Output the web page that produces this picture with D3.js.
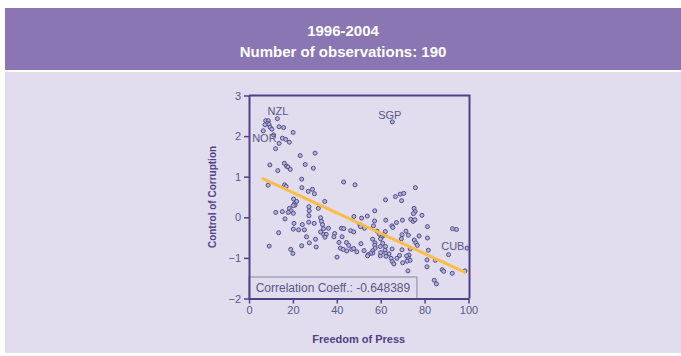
<!DOCTYPE html>
<html>
<head>
<meta charset="utf-8">
<script src="https://cdn.jsdelivr.net/npm/d3@7"></script>
<style>
  html, body { margin: 0; padding: 0; background: #ffffff; }
  svg { display: block; font-family: "Liberation Sans", Arial, Helvetica, sans-serif; }
</style>
</head>
<body>
<script>
// Freedom of Press index (x) and Control of Corruption score (y), one entry per country
const pressFreedom = [
  7.6, 8.8, 8.4, 7.3, 9.1, 9.6, 12.9, 13.7, 15.8, 10.4,
  6.5, 11.2, 20.1, 15.2, 16.7, 18.4, 13.7, 12.1, 23.3, 30.1,
  9.5, 16.1, 17.1, 17.8, 18.8, 13.1, 25.6, 29.3, 24.0, 8.7,
  16.2, 16.9, 24.1, 27.0, 28.9, 29.8, 20.3, 65.3, 43.1, 48.3,
  62.2, 66.7, 68.9, 70.5, 69.5, 75.8, 34.5, 21.7, 20.7, 21.0,
  20.2, 18.4, 19.2, 20.2, 17.9, 12.2, 15.2, 16.4, 27.3, 27.4,
  27.3, 27.2, 20.5, 24.3, 20.2, 22.6, 25.2, 29.7, 13.5, 26.2,
  30.3, 27.5, 24.0, 30.6, 9.2, 19.0, 20.0, 31.6, 32.6, 33.0,
  33.5, 33.9, 36.2, 32.6, 34.0, 35.2, 34.6, 39.0, 38.7, 42.1,
  43.2, 42.4, 46.3, 47.7, 41.0, 41.6, 44.4, 45.4, 42.9, 44.5,
  46.8, 40.1, 47.8, 49.1, 52.4, 51.3, 53.9, 57.3, 50.5, 50.8,
  52.6, 56.7, 57.2, 62.3, 58.3, 59.4, 60.5, 59.9, 56.3, 57.4,
  57.3, 57.5, 56.4, 56.4, 55.4, 54.3, 54.0, 51.0, 47.7, 60.9,
  59.8, 62.2, 62.0, 62.3, 59.8, 60.0, 62.4, 63.8, 64.7, 65.3,
  66.0, 65.1, 65.5, 62.1, 61.6, 65.2, 75.2, 75.7, 74.9, 73.7,
  74.8, 75.6, 78.8, 81.3, 67.2, 69.9, 71.5, 69.7, 72.6, 69.4,
  77.5, 75.3, 76.0, 76.7, 81.3, 92.7, 94.5, 99.3, 90.9, 81.7,
  73.4, 72.9, 72.6, 73.4, 71.8, 68.6, 70.0, 72.0, 69.7, 67.4,
  81.1, 84.9, 81.1, 72.4, 88.0, 88.7, 92.6, 98.4, 84.4, 85.4
];
const corruptionControl = [
  2.38, 2.38, 2.32, 2.28, 2.29, 2.22, 2.43, 2.23, 2.21, 2.17,
  2.13, 2.03, 2.09, 1.95, 1.92, 1.85, 1.82, 1.69, 1.52, 1.58,
  1.29, 1.33, 1.26, 1.24, 1.18, 1.15, 1.30, 1.21, 0.94, 0.79,
  0.80, 0.76, 0.73, 0.64, 0.69, 0.58, 0.45, 2.35, 0.87, 0.80,
  0.43, 0.51, 0.57, 0.59, 0.41, 0.73, 0.39, 0.39, 0.33, 0.30,
  0.29, 0.22, 0.16, 0.10, 0.12, 0.12, 0.14, -0.04, 0.26, 0.16,
  0.04, -0.12, -0.15, -0.18, -0.29, -0.31, -0.31, -0.15, -0.38, -0.48,
  -0.54, -0.63, -0.70, -0.73, -0.71, -0.79, -0.89, 0.22, -0.01, -0.10,
  -0.18, -0.28, -0.27, -0.36, -0.42, -0.42, -0.49, -0.40, -0.48, -0.27,
  -0.28, -0.48, -0.33, -0.36, -0.62, -0.76, -0.62, -0.69, -0.79, -0.83,
  -0.79, -0.98, 0.02, -0.85, -0.82, -0.02, 0.03, 0.16, -0.18, -0.23,
  -0.27, -0.21, -0.09, -0.07, -0.34, -0.42, -0.48, -0.53, -0.54, -0.63,
  -0.69, -0.76, -0.82, -0.88, -0.89, -0.92, -0.95, -0.65, -0.77, -0.64,
  -0.72, -0.72, -0.81, -0.89, -0.95, -0.87, -0.96, -0.90, -1.01, -1.09,
  -1.15, -0.21, -0.25, -0.35, -0.44, -0.78, 0.22, 0.14, 0.09, -0.05,
  -0.10, -0.06, 0.05, -0.23, -0.13, -0.07, -0.34, -0.43, -0.44, -0.53,
  -0.46, -0.56, -0.63, -0.69, -0.51, -0.28, -0.30, -0.76, -0.92, -0.81,
  -0.78, -0.93, -1.01, -1.06, -0.95, -0.94, -1.12, -1.08, -0.80, -1.01,
  -1.05, -1.06, -1.22, -1.32, -1.29, -1.33, -1.38, -1.32, -1.55, -1.64
];

// Countries called out by name, with their values
const labelCodes = ["NZL", "NOR", "SGP", "CUB"];
const labelPress = [12.9, 11.2, 65.3, 99.3];
const labelCorruption = [2.43, 2.03, 2.35, -0.76];

// Fitted regression line
const fitSlope = -0.02503;
const fitIntercept = 1.108;
const fitFrom = 6.3;
const fitTo = 98.2;
const correlation = -0.648389;

// Axis ticks
const xTicks = [0, 20, 40, 60, 80, 100];
const yTicks = [-2, -1, 0, 1, 2, 3];

const titleLines = ["1996-2004", "Number of observations: " + pressFreedom.length];

const W = 681, H = 356;
const axisColor = "#4f4185";
const textColor = "#5a5688";

const svg = d3.select("body").append("svg")
  .attr("width", W).attr("height", H);

// panel backgrounds
svg.append("rect").attr("x", 5).attr("y", 8).attr("width", W - 5).attr("height", 62)
  .attr("fill", "#8a76b3");
svg.append("rect").attr("x", 5).attr("y", 72).attr("width", W - 5).attr("height", 281)
  .attr("fill", "#e1ddee");

svg.selectAll("text.title").data(titleLines).join("text")
  .attr("class", "title")
  .attr("x", 343)
  .attr("y", (d, i) => 36 + i * 21)
  .attr("text-anchor", "middle")
  .attr("fill", "#ffffff")
  .attr("font-size", 15)
  .attr("font-weight", "bold")
  .text(d => d);

const x = d3.scaleLinear().domain([0, 100]).range([249, 468.5]);
const y = d3.scaleLinear().domain([-2, 3]).range([298.5, 95.5]);

// frame top and right
const [x0, x1] = x.range();
const [yb, yt] = y.range();
svg.append("path")
  .attr("d", `M${x0},${yt}H${x1 + 1}V${yb}`)
  .attr("fill", "none").attr("stroke", axisColor).attr("stroke-width", 2);

// correlation box
const box = svg.append("g");
box.append("rect")
  .attr("x", x0).attr("y", yb - 21.5)
  .attr("width", x(76.5) - x0).attr("height", 21.5)
  .attr("fill", "none").attr("stroke", "#8985aa").attr("stroke-width", 1);
box.append("text")
  .attr("x", (x0 + x(76.5)) / 2).attr("y", yb - 7)
  .attr("text-anchor", "middle")
  .attr("font-size", 12)
  .attr("fill", textColor)
  .text("Correlation Coeff.: " + correlation);

// axes
const styleAxis = g => {
  g.select(".domain").attr("stroke", axisColor).attr("stroke-width", 2);
  g.selectAll(".tick line").attr("stroke", axisColor).attr("stroke-width", 1.5);
  g.selectAll(".tick text").attr("fill", textColor).attr("font-size", 11)
    .attr("font-family", "Liberation Sans, Arial, sans-serif");
};
svg.append("g")
  .attr("transform", `translate(0,${yb})`)
  .call(d3.axisBottom(x).tickValues(xTicks).tickFormat(d3.format("d"))
    .tickSize(5).tickSizeOuter(0).tickPadding(3))
  .call(styleAxis);
svg.append("g")
  .attr("transform", `translate(${x0},0)`)
  .call(d3.axisLeft(y).tickValues(yTicks).tickFormat(d3.format("d"))
    .tickSize(5).tickSizeOuter(0).tickPadding(3))
  .call(styleAxis);

// axis titles
svg.append("text")
  .attr("x", (x0 + x1) / 2).attr("y", 343)
  .attr("text-anchor", "middle")
  .attr("font-size", 11).attr("font-weight", "bold")
  .attr("fill", axisColor)
  .text("Freedom of Press");
svg.append("text")
  .attr("transform", `translate(216,${(yt + yb) / 2}) rotate(-90)`)
  .attr("text-anchor", "middle")
  .attr("font-size", 10).attr("font-weight", "bold")
  .attr("fill", axisColor)
  .text("Control of Corruption");

// points
svg.append("g").selectAll("circle")
  .data(d3.range(pressFreedom.length))
  .join("circle")
  .attr("cx", i => x(pressFreedom[i]))
  .attr("cy", i => y(corruptionControl[i]))
  .attr("r", 2)
  .attr("fill", "#b9b4d6")
  .attr("stroke", "#4d4a8c")
  .attr("stroke-width", 1);

// regression line
svg.append("line")
  .attr("x1", x(fitFrom)).attr("y1", y(fitIntercept + fitSlope * fitFrom))
  .attr("x2", x(fitTo)).attr("y2", y(fitIntercept + fitSlope * fitTo))
  .attr("stroke", "#fcbd45").attr("stroke-width", 3).attr("stroke-linecap", "round");

// country labels
const labelStyle = {
  NZL: { dx: 0.7, dy: -3.7, anchor: "middle" },
  NOR: { dx: 3, dy: 6.7, anchor: "end" },
  SGP: { dx: -2.5, dy: -3.2, anchor: "middle" },
  CUB: { dx: -2.5, dy: 1.7, anchor: "end" }
};
svg.append("g").selectAll("text")
  .data(d3.range(labelCodes.length))
  .join("text")
  .attr("x", i => x(labelPress[i]) + labelStyle[labelCodes[i]].dx)
  .attr("y", i => y(labelCorruption[i]) + labelStyle[labelCodes[i]].dy)
  .attr("text-anchor", i => labelStyle[labelCodes[i]].anchor)
  .attr("font-size", 11)
  .attr("fill", textColor)
  .text(i => labelCodes[i]);
</script>
</body>
</html>
